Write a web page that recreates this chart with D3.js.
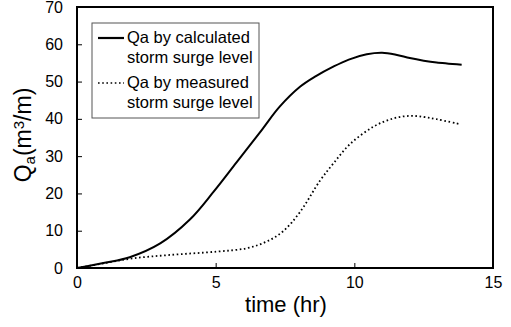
<!DOCTYPE html>
<html>
<head>
<meta charset="utf-8">
<script src="https://cdn.jsdelivr.net/npm/d3@7"></script>
<style>
  body { margin: 0; background: #fff; }
  svg text { font-family: "Liberation Sans", Arial, sans-serif; fill: #000; }
</style>
</head>
<body>
<svg id="chart" width="511" height="327"></svg>
<script>
// values
var timeCalc = [0, 1, 1.9, 3.0, 4.07, 4.92, 5.76, 6.66, 7.3, 8.04, 8.6, 9.24, 9.8, 10.45, 11.0, 11.5, 12.0, 12.5, 12.97, 13.87];
var qaCalc   = [0, 1.4, 2.9, 6.6, 13.0, 20.4, 28.4, 37.0, 43.2, 48.6, 51.4, 54.0, 55.9, 57.3, 57.7, 57.2, 56.3, 55.6, 55.1, 54.5];

var timeMeas = [0, 1, 2.03, 3.35, 5.04, 6.12, 6.84, 7.44, 8.04, 8.76, 9.24, 9.84, 10.69, 11.4, 12.0, 12.5, 12.97, 13.8];
var qaMeas   = [0, 1.3, 2.6, 3.5, 4.4, 5.3, 7.1, 9.9, 15.0, 23.4, 28.0, 33.2, 37.9, 40.1, 40.8, 40.5, 39.9, 38.6];

var xTicks = [0, 5, 10, 15];
var yTicks = [0, 10, 20, 30, 40, 50, 60, 70];
var legendLabels = [["Qa by calculated", "storm surge level"], ["Qa by measured", "storm surge level"]];

var svg = d3.select("#chart");
var plotL = 77, plotR = 493, plotT = 7, plotB = 268;

var x = d3.scaleLinear().domain([0, 15]).range([plotL, plotR]);
var y = d3.scaleLinear().domain([0, 70]).range([plotB, plotT]);

// axes with inward ticks
svg.append("g")
  .attr("transform", "translate(0," + plotB + ")")
  .call(d3.axisBottom(x).tickValues(xTicks).tickSizeInner(-5).tickSizeOuter(0).tickPadding(9))
  .call(function(g) {
    g.select(".domain").remove();
    g.selectAll("text").style("font-size", "16px");
  });

svg.append("g")
  .attr("transform", "translate(" + plotL + ",0)")
  .call(d3.axisLeft(y).tickValues(yTicks).tickSizeInner(-5).tickSizeOuter(0).tickPadding(14))
  .call(function(g) {
    g.select(".domain").remove();
    g.selectAll("text").style("font-size", "16px");
  });

// plot frame
svg.append("rect")
  .attr("x", plotL).attr("y", plotT)
  .attr("width", plotR - plotL).attr("height", plotB - plotT)
  .attr("fill", "none").attr("stroke", "#000").attr("stroke-width", 2);

var line = d3.line()
  .x(function(d) { return x(d[0]); })
  .y(function(d) { return y(d[1]); })
  .curve(d3.curveCatmullRom.alpha(0.5));

svg.append("path")
  .datum(d3.zip(timeCalc, qaCalc))
  .attr("d", line)
  .attr("fill", "none").attr("stroke", "#000").attr("stroke-width", 2);

svg.append("path")
  .datum(d3.zip(timeMeas, qaMeas))
  .attr("d", line)
  .attr("fill", "none").attr("stroke", "#000").attr("stroke-width", 1.8)
  .attr("stroke-dasharray", "1.6,2.6");

// legend
var lg = svg.append("g");
lg.append("rect")
  .attr("x", 92).attr("y", 23).attr("width", 167).attr("height", 95)
  .attr("fill", "#fff").attr("stroke", "#555").attr("stroke-width", 1);

legendLabels.forEach(function(lbl, i) {
  var yy = 38 + i * 45;
  lg.append("line")
    .attr("x1", 98).attr("x2", 124).attr("y1", yy).attr("y2", yy)
    .attr("stroke", "#000")
    .attr("stroke-width", i === 0 ? 2.2 : 1.6)
    .attr("stroke-dasharray", i === 0 ? null : "1.6,2.6");
  lbl.forEach(function(t, j) {
    lg.append("text")
      .attr("x", 127).attr("y", yy + 5 + j * 20)
      .style("font-size", "16.5px")
      .text(t);
  });
});

// axis titles
svg.append("text")
  .attr("x", 286).attr("y", 312)
  .attr("text-anchor", "middle")
  .style("font-size", "22px")
  .text("time (hr)");

var yt = svg.append("text")
  .attr("transform", "translate(31,135) rotate(-90)")
  .attr("text-anchor", "middle")
  .style("font-size", "23px");
yt.append("tspan").text("Q");
yt.append("tspan").attr("baseline-shift", "-25%").style("font-size", "15px").text("a");
yt.append("tspan").text("(m");
yt.append("tspan").attr("baseline-shift", "45%").style("font-size", "15px").text("3");
yt.append("tspan").text("/m)");
</script>
</body>
</html>
